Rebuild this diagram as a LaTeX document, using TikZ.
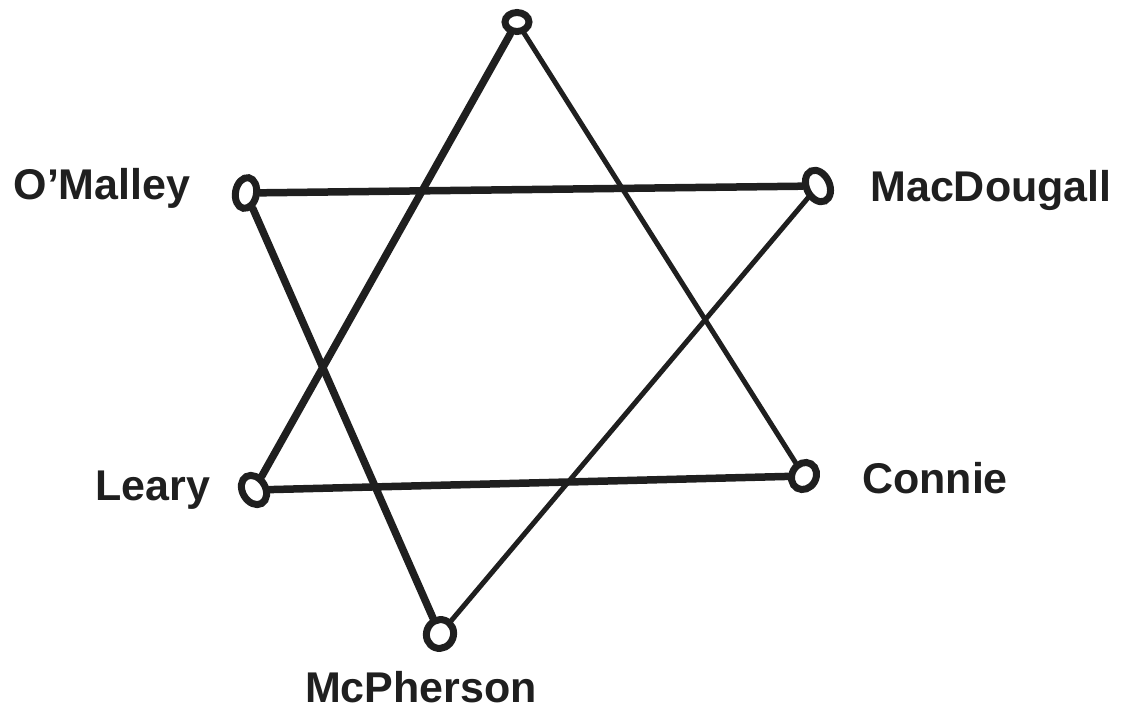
\documentclass[tikz,border=0pt]{standalone}
\usepackage{fontspec}
\setmainfont{Liberation Sans}
\usetikzlibrary{shapes.geometric}
\begin{document}
\begin{tikzpicture}[x=1pt,y=-1pt,
  ring/.style={draw=black!88,ellipse,line width=7pt,minimum width=21pt,minimum height=31pt,inner sep=0pt},
  edge/.style={draw=black!88,line width=7.5pt,line cap=round},
  thinedge/.style={draw=black!88,line width=5pt,line cap=round},
  lbl/.style={font=\fontsize{43}{48}\selectfont\bfseries,text=black!88,inner sep=0pt}]
\useasboundingbox (0,0) rectangle (1122,712);
\node[ring,minimum width=24pt,minimum height=19pt] (top) at (517,22) {};
\node[ring,rotate=-10] (om) at (246,193) {};
\node[ring,rotate=25,minimum width=23pt,minimum height=33pt] (md) at (818,186) {};
\node[ring,rotate=30,minimum width=23pt] (le) at (254,490) {};
\node[ring,rotate=-30,minimum width=24pt,minimum height=28pt] (co) at (804,476) {};
\node[ring,rotate=-20,minimum width=27pt,minimum height=29pt] (mp) at (440,634) {};
\node[lbl] (tom) at (102,188) {O’Malley};
\node[lbl] (tmd) at (991,190) {MacDougall};
\node[lbl] (tle) at (153,490) {Leary};
\node[lbl] (tco) at (935,478) {Connie};
\node[lbl] (tmp) at (421,687) {McPherson};
\draw[edge] (top) -- (le);
\draw[thinedge] (top) -- (co);
\draw[edge] (om) -- (md);
\draw[edge] (om) -- (mp);
\draw[thinedge] (md) -- (mp);
\draw[edge] (le) -- (co);
\end{tikzpicture}
\end{document}
